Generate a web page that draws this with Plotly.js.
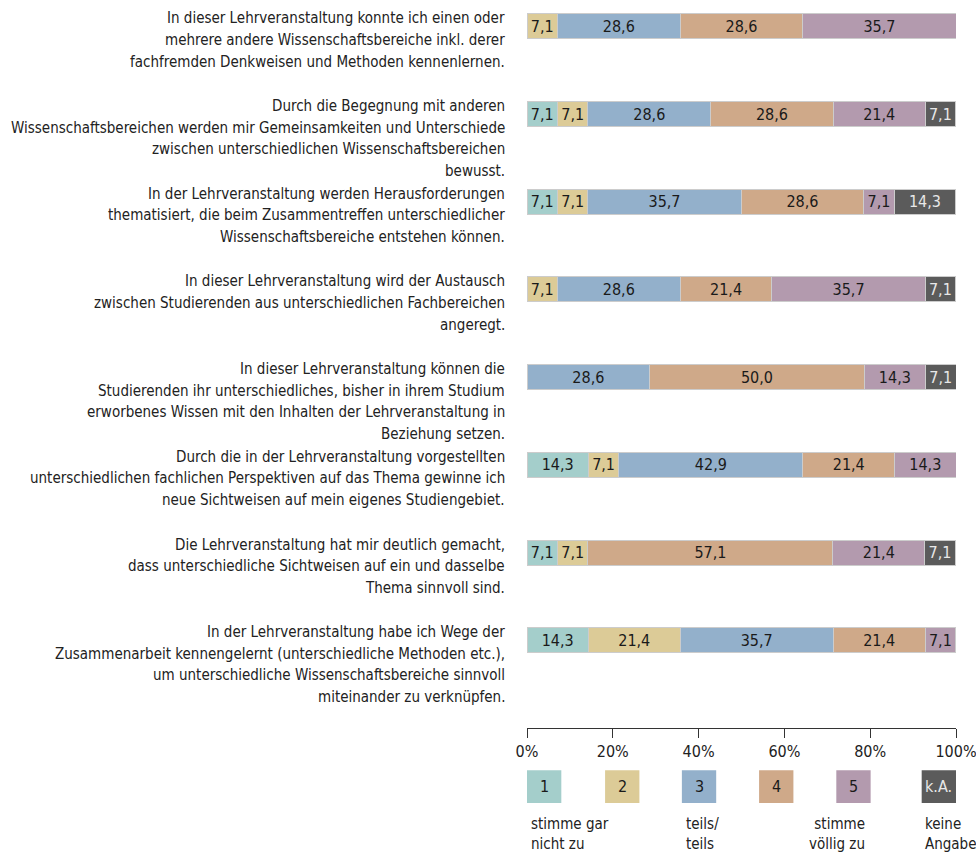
<!DOCTYPE html>
<html>
<head>
<meta charset="utf-8">
<script src="https://cdn.plot.ly/plotly-3.0.1.min.js"></script>
<style>html,body{margin:0;padding:0;background:#fff;}#chart{width:976px;height:854px;}</style>
</head>
<body>
<div id="chart"></div>
<script>
var statements = [
  "In dieser Lehrveranstaltung konnte ich einen oder<br>mehrere andere Wissenschaftsbereiche inkl. derer<br>fachfremden Denkweisen und Methoden kennenlernen.",
  "Durch die Begegnung mit anderen<br>Wissenschaftsbereichen werden mir Gemeinsamkeiten und Unterschiede<br>zwischen unterschiedlichen Wissenschaftsbereichen<br>bewusst.",
  "In der Lehrveranstaltung werden Herausforderungen<br>thematisiert, die beim Zusammentreffen unterschiedlicher<br>Wissenschaftsbereiche entstehen können.",
  "In dieser Lehrveranstaltung wird der Austausch<br>zwischen Studierenden aus unterschiedlichen Fachbereichen<br>angeregt.",
  "In dieser Lehrveranstaltung können die<br>Studierenden ihr unterschiedliches, bisher in ihrem Studium<br>erworbenes Wissen mit den Inhalten der Lehrveranstaltung in<br>Beziehung setzen.",
  "Durch die in der Lehrveranstaltung vorgestellten<br>unterschiedlichen fachlichen Perspektiven auf das Thema gewinne ich<br>neue Sichtweisen auf mein eigenes Studiengebiet.",
  "Die Lehrveranstaltung hat mir deutlich gemacht,<br>dass unterschiedliche Sichtweisen auf ein und dasselbe<br>Thema sinnvoll sind.",
  "In der Lehrveranstaltung habe ich Wege der<br>Zusammenarbeit kennengelernt (unterschiedliche Methoden etc.),<br>um unterschiedliche Wissenschaftsbereiche sinnvoll<br>miteinander zu verknüpfen."
];
var seriesNames = ["1", "2", "3", "4", "5", "k.A."];
var legendTexts = ["stimme gar<br>nicht zu", "", "teils/<br>teils", "", "stimme<br>völlig zu", "keine<br>Angabe"];
var s1  = [0,    7.1, 7.1, 0,    0,    14.3, 7.1, 14.3];
var s2  = [7.1,  7.1, 7.1, 7.1,  0,    7.1,  7.1, 21.4];
var s3  = [28.6, 28.6,35.7,28.6, 28.6, 42.9, 0,   35.7];
var s4  = [28.6, 28.6,28.6,21.4, 50.0, 21.4, 57.1,21.4];
var s5  = [35.7, 21.4,7.1, 35.7, 14.3, 14.3, 21.4,7.1];
var sKA = [0,    7.1, 14.3,7.1,  7.1,  0,    7.1, 0];
var tickVals = [0, 20, 40, 60, 80, 100];
var tickLabels = ["0%", "20%", "40%", "60%", "80%", "100%"];

var colors = ["#a4cecb", "#dccb97", "#93b0cb", "#cfa989", "#b39aae", "#5b5b5b"];
var textColors = ["#1a1a1a", "#1a1a1a", "#1a1a1a", "#1a1a1a", "#1a1a1a", "#e8e8e8"];
var FONT = "'Liberation Sans Narrow', 'DejaVu Sans Condensed', 'Arial Narrow', sans-serif";
var allSeries = [s1, s2, s3, s4, s5, sKA];
var idx = statements.map(function(_, i){ return i; });

var traces = allSeries.map(function(vals, k){
  return {
    type: 'bar', orientation: 'h', name: seriesNames[k],
    y: idx, x: vals,
    width: 0.285,
    marker: {color: colors[k], line: {color: '#cccccc', width: 1}},
    text: vals.map(function(v){ return v > 0 ? v.toFixed(1).replace('.', ',') : ''; }),
    textposition: 'inside', insidetextanchor: 'middle',
    textfont: {family: FONT, size: 16, color: textColors[k]},
    constraintext: 'none',
    hoverinfo: 'none', showlegend: false
  };
});

var annotations = [];
statements.forEach(function(s, i){
  s.split('<br>').forEach(function(line, j){
    annotations.push({
      xref: 'paper', yref: 'y', x: 0, y: i, xanchor: 'right', yanchor: 'middle',
      xshift: -20, yshift: 8 - j * 21.6, align: 'right', showarrow: false,
      text: line, font: {family: FONT, size: 15, color: '#222'}
    });
  });
});

var shapes = [];
var boxStarts = [0, 18.2, 36.1, 54.1, 72.1, 92];
seriesNames.forEach(function(n, k){
  var x0 = boxStarts[k], x1 = x0 + 8;
  shapes.push({type: 'rect', xref: 'x', yref: 'paper', x0: x0, x1: x1,
    y0: -0.103, y1: -0.058, fillcolor: colors[k], line: {width: 0}});
  annotations.push({xref: 'x', yref: 'paper', x: (x0 + x1) / 2, y: -0.0805,
    xanchor: 'center', yanchor: 'middle', showarrow: false, text: n,
    font: {family: FONT, size: 16, color: textColors[k]}});
  if (legendTexts[k]) {
    var anchor = k === 4 ? 'right' : 'left';
    var ax = k === 4 ? 79.2 : x0 + 0.4;
    annotations.push({xref: 'x', yref: 'paper', x: ax, y: -0.117,
      xanchor: anchor, yanchor: 'top', align: anchor, showarrow: false,
      text: legendTexts[k], font: {family: FONT, size: 15, color: '#222'}});
  }
});

var layout = {
  width: 976, height: 854,
  margin: {l: 527, r: 20, t: 0, b: 126},
  paper_bgcolor: '#fff', plot_bgcolor: '#fff',
  barmode: 'stack', bargap: 0,
  font: {family: FONT, size: 15, color: '#222'},
  xaxis: {range: [0, 100], tickvals: tickVals, ticktext: tickLabels,
    showgrid: false, zeroline: false, showline: true, linecolor: '#333', linewidth: 1,
    ticks: 'outside', ticklen: 9, tickcolor: '#333', ticklabeloverflow: 'allow',
    tickfont: {family: FONT, size: 16, color: '#222'}, fixedrange: true},
  yaxis: {range: [8.0, -0.3], showticklabels: false, showgrid: false, zeroline: false,
    showline: false, ticks: '', fixedrange: true},
  annotations: annotations,
  shapes: shapes,
  showlegend: false
};

Plotly.newPlot('chart', traces, layout, {displayModeBar: false, staticPlot: true});
</script>
</body>
</html>
